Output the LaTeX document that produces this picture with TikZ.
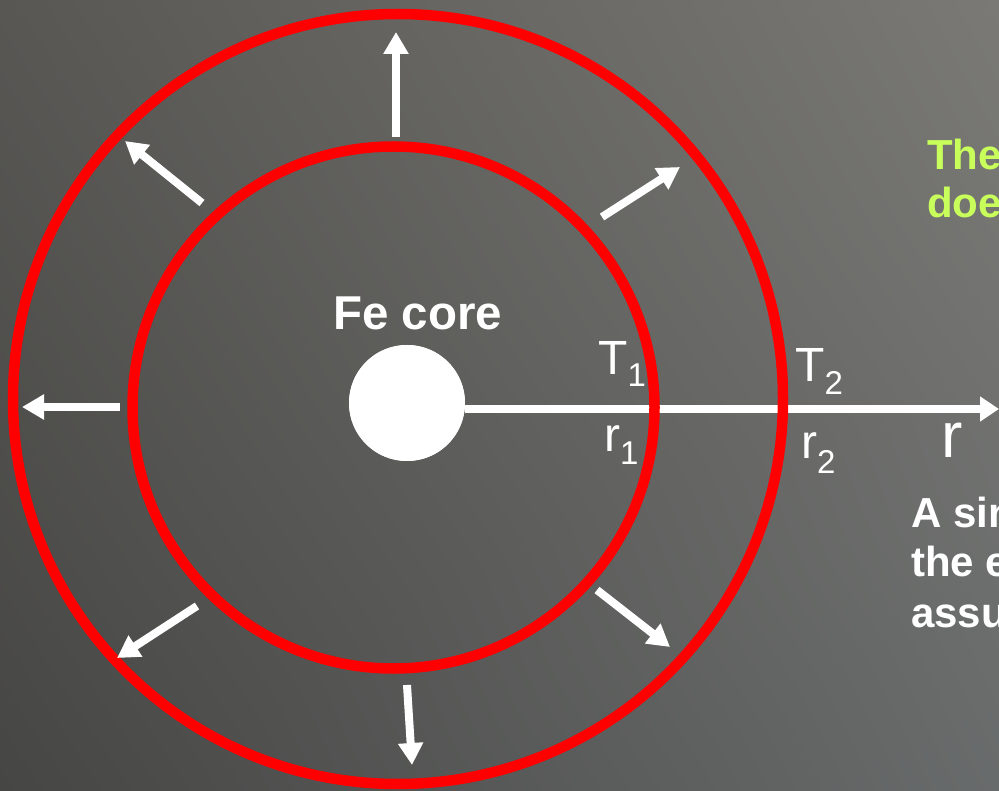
\documentclass[tikz,border=0pt]{standalone}
\usepackage{fontspec}
\setmainfont{Liberation Sans}
\usetikzlibrary{arrows.meta,shadings}
\definecolor{bgTL}{RGB}{88,87,84}
\definecolor{bgTR}{RGB}{122,121,117}
\definecolor{bgBL}{RGB}{70,70,68}
\definecolor{bgBR}{RGB}{104,107,107}
\definecolor{lime}{RGB}{200,255,90}
\begin{document}
\begin{tikzpicture}[x=1pt,y=-1pt,
  ring/.style={draw=red, line width=10.5pt},
  outarrow/.style={draw=white, line width=8pt, -{Triangle[length=22pt,width=24pt]}},
  axisarrow/.style={draw=white, line width=8pt, -{Triangle[length=19pt,width=24pt]}},
  lbl/.style={text=white, inner sep=0pt, anchor=base west},
  big/.style={font=\fontsize{48}{48}\selectfont},
  bold/.style={font=\bfseries\fontsize{42}{42}\selectfont}]
\useasboundingbox (0,0) rectangle (999,791);
\shade[upper left=bgTL, upper right=bgTR, lower left=bgBL, lower right=bgBR] (0,0) rectangle (999,791);
% core and axis
\node[circle, fill=white, minimum size=116pt, inner sep=0pt] (core) at (407,403) {};
\coordinate (axend) at (999,409);
\draw[axisarrow] (core.east |- axend) -- (axend);
\node[circle, fill=white, minimum size=116pt, inner sep=0pt] (core2) at (407,403) {};
% shells
\draw[ring] (398,399) circle[radius=385];
\draw[ring] (393.5,407.5) circle[radius=261];
% radial arrows
\coordinate (a1s) at (396,137); \coordinate (a1e) at (396,32);
\coordinate (a2s) at (202,203); \coordinate (a2e) at (125,141);
\coordinate (a3s) at (602,217); \coordinate (a3e) at (680,167);
\coordinate (a4s) at (120,407); \coordinate (a4e) at (22,407);
\coordinate (a5s) at (197,606); \coordinate (a5e) at (117,658);
\coordinate (a6s) at (407,685); \coordinate (a6e) at (412,765);
\coordinate (a7s) at (597,590); \coordinate (a7e) at (670,647);
\draw[outarrow] (a1s) -- (a1e);
\draw[outarrow] (a2s) -- (a2e);
\draw[outarrow] (a3s) -- (a3e);
\draw[outarrow] (a4s) -- (a4e);
\draw[outarrow] (a5s) -- (a5e);
\draw[outarrow] (a6s) -- (a6e);
\draw[outarrow] (a7s) -- (a7e);
% labels
\node[lbl, font=\bfseries\fontsize{47.5}{47.5}\selectfont] (fe) at (333,330) {Fe core};
\node[lbl, big] (t1) at (598,375) {T\raisebox{-12pt}{\fontsize{33}{33}\selectfont 1}};
\node[lbl, big] (t2) at (795,382) {T\raisebox{-13pt}{\fontsize{33}{33}\selectfont 2}};
\node[lbl, big] (r1) at (604,452) {r\raisebox{-13pt}{\fontsize{33}{33}\selectfont 1}};
\node[lbl, big] (r2) at (801,459) {r\raisebox{-14pt}{\fontsize{33}{33}\selectfont 2}};
\node[lbl, font=\fontsize{64}{64}\selectfont] (rr) at (941,457) {r};
% side texts (cut by the picture edge, as in the reference)
\node[lbl, bold, text=lime] (g1) at (927,170) {The};
\node[lbl, bold, text=lime] (g2) at (927,218) {doe};
\node[lbl, bold] (w1) at (911,527) {A sin};
\node[lbl, bold] (w2) at (911,576) {the e};
\node[lbl, bold] (w3) at (911,627) {assu};
\end{tikzpicture}
\end{document}
